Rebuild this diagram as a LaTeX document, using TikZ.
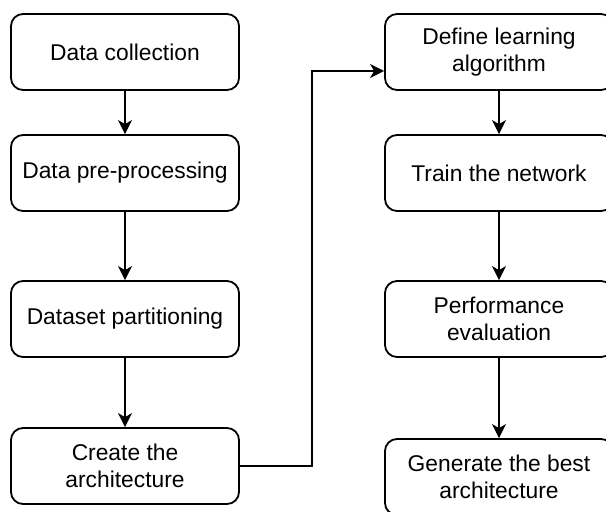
\documentclass[tikz,border=0pt]{standalone}
\usepackage{fontspec}
\setmainfont{Liberation Sans}
\usepackage{tikz}
\usetikzlibrary{arrows.meta}
\tikzset{>={Stealth[length=14pt,width=14pt,inset=4pt]}}
\tikzset{stage/.style={draw, line width=1.8pt, rounded corners=12pt, align=center,
    minimum width=228pt, minimum height=76pt, inner sep=0pt,
    font=\fontsize{22.8}{27}\selectfont}}

\begin{document}
\begin{tikzpicture}[x=1pt, y=-1pt, line width=1.8pt]

  \newcommand\ColL{125};
  \newcommand\ColR{499};

  \useasboundingbox (0,0) rectangle (606,512);

  %% left column
  \node[stage] (collect) at (\ColL, 52) {Data collection};
  \node[stage] (prep)    at (\ColL, 173) {Data pre-processing};
  \node[stage] (part)    at (\ColL, 319) {Dataset partitioning};
  \node[stage] (arch)    at (\ColL, 466) {Create the\\architecture};

  %% right column
  \node[stage] (learn) at (\ColR, 52) {Define learning\\algorithm};
  \node[stage] (train) at (\ColR, 173) {Train the network};
  \node[stage] (perf)  at (\ColR, 319) {Performance\\evaluation};
  \node[stage] (best)  at (\ColR, 477) {Generate the best\\architecture};

  \draw[->] (collect) -- (prep);
  \draw[->] (prep) -- (part);
  \draw[->] (part) -- (arch);

  % arch -> learn, enters low on the left side
  \coordinate (entry) at ([yshift=-19pt]learn.west);
  \draw[->] (arch.east) -- ++(72,0) |- (entry);

  \draw[->] (learn) -- (train);
  \draw[->] (train) -- (perf);
  \draw[->] (perf) -- (best);

\end{tikzpicture}
\end{document}
